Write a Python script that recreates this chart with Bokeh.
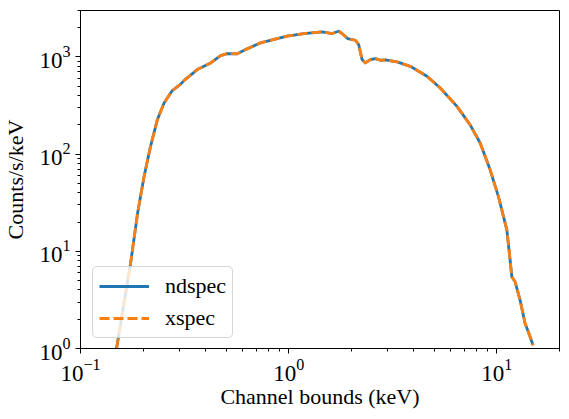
from bokeh.plotting import figure
from bokeh.models import ColumnDataSource, Legend, LegendItem, Range1d
from bokeh.embed import file_html
from bokeh.resources import INLINE

# Channel energies (keV) and model counts
energy_kev = [0.149, 0.174, 0.188, 0.202, 0.217, 0.234, 0.252, 0.276, 0.303, 0.314,
              0.364, 0.422, 0.471, 0.507, 0.566, 0.632, 0.732, 0.881, 0.984, 1.181,
              1.448, 1.617, 1.739, 1.805, 1.921, 2.091, 2.169, 2.252, 2.335, 2.468,
              2.609, 2.756, 2.913, 3.315, 3.839, 4.207, 4.617, 5.348, 6.431, 7.445,
              8.316, 9.288, 10.18, 11.17, 11.58, 11.80, 12.24, 12.93, 13.67, 14.18, 14.93]
ndspec_counts = [1.0, 7.5, 24.6, 58.8, 120, 226, 336, 450, 525, 570,
                 740, 867, 1031, 1082, 1074, 1209, 1394, 1544, 1631, 1739,
                 1811, 1739, 1836, 1739, 1544, 1483, 1339, 938, 867, 938,
                 960, 923, 931, 888, 800, 711, 631, 479, 310, 200,
                 130, 68.9, 36.5, 16.6, 8.14, 5.47, 4.86, 3.15, 1.81, 1.48, 1.08]
xspec_counts = [1.0, 7.5, 24.6, 58.8, 120, 226, 336, 450, 525, 570,
                740, 867, 1031, 1082, 1074, 1209, 1394, 1544, 1631, 1739,
                1811, 1739, 1836, 1739, 1544, 1483, 1339, 938, 867, 938,
                960, 923, 931, 888, 800, 711, 631, 479, 310, 200,
                130, 68.9, 36.5, 16.6, 8.14, 5.47, 4.86, 3.15, 1.81, 1.48, 1.08]
series_labels = ["ndspec", "xspec"]
x_label = "Channel bounds (keV)"
y_label = "Counts/s/keV"

FONT = "Liberation Serif"

p = figure(width=569, height=419, x_axis_type="log", y_axis_type="log",
           x_range=Range1d(0.1, 20), y_range=Range1d(1, 3000),
           output_backend="svg", toolbar_location=None,
           min_border_left=80, min_border_right=10, min_border_top=10,
           min_border_bottom=71)

src = ColumnDataSource(dict(x=energy_kev, nd=ndspec_counts, xs=xspec_counts))
r1 = p.line("x", "nd", source=src, line_color="#1f77b4", line_width=2.8,
            line_join="round")
r2 = p.line("x", "xs", source=src, line_color="#ff7f0e", line_width=2.8,
            line_dash="10 4", line_join="round")

p.grid.visible = False
p.outline_line_color = "black"
p.outline_line_width = 1
p.outline_line_alpha = 1
p.background_fill_color = "white"
p.border_fill_color = "white"

for ax in (p.xaxis[0], p.yaxis[0]):
    ax.axis_line_color = "black"
    ax.major_tick_line_color = "black"
    ax.minor_tick_line_color = "black"
    ax.major_tick_in = 0
    ax.major_tick_out = 5
    ax.minor_tick_in = 0
    ax.minor_tick_out = 3
    ax.major_label_text_font = FONT
    ax.major_label_text_font_size = "23px"
    ax.major_label_text_color = "black"
    ax.axis_label_text_font = FONT
    ax.axis_label_text_font_size = "22px"
    ax.axis_label_text_font_style = "normal"
    ax.axis_label_text_color = "black"
    ax.major_label_standoff = 5

p.xaxis.axis_label = x_label
p.yaxis.axis_label = y_label
p.xaxis.axis_label_standoff = 0
p.yaxis.axis_label_standoff = 8

legend = Legend(items=[LegendItem(label=series_labels[0], renderers=[r1]),
                       LegendItem(label=series_labels[1], renderers=[r2])],
                location=(12, 10))
legend.label_text_font = FONT
legend.label_text_font_size = "22px"
legend.label_text_color = "black"
legend.background_fill_color = "white"
legend.background_fill_alpha = 0.8
legend.border_line_color = "#cccccc"
legend.border_line_alpha = 0.8
legend.border_line_width = 1
legend.padding = 6
legend.spacing = 6
legend.glyph_width = 50
legend.glyph_height = 20
legend.label_height = 20
legend.label_standoff = 16
legend.margin = 0
try:
    legend.border_radius = 5
except Exception:
    pass
p.add_layout(legend)

open("out.html", "w").write(file_html(p, INLINE))
